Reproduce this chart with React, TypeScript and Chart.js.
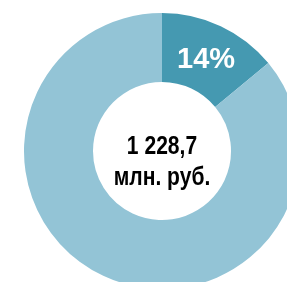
import React, { useEffect, useRef } from "react";
import { Chart, registerables } from "chart.js";

Chart.register(...registerables);

const categories = ["Доля", "Остальное"];
const values = [14, 86];
const sliceLabels = ["14%", ""];
const colors = ["#4599B1", "#93C4D6"];
const centerLines = ["1 228,7", "млн. руб."];

const labelPlugin = {
  id: "labelPlugin",
  afterDraw(chart: any) {
    const ctx = chart.ctx;
    const meta = chart.getDatasetMeta(0);
    ctx.save();
    ctx.textAlign = "center";
    ctx.textBaseline = "middle";
    meta.data.forEach((arc: any, i: number) => {
      const t = sliceLabels[i];
      if (!t) return;
      const p = arc.tooltipPosition();
      ctx.fillStyle = "#ffffff";
      ctx.font = "bold 29px 'Liberation Sans', Arial, sans-serif";
      ctx.fillText(t, p.x, p.y + 3);
    });
    const a = chart.chartArea;
    const cx = (a.left + a.right) / 2;
    const cy = (a.top + a.bottom) / 2;
    ctx.fillStyle = "#000000";
    ctx.textBaseline = "alphabetic";
    ctx.font = "bold 26px 'Liberation Sans', Arial, sans-serif";
    ctx.translate(cx, 0);
    ctx.scale(0.81, 1);
    ctx.fillText(centerLines[0], 0, cy + 3);
    ctx.fillText(centerLines[1], 0, cy + 34);
    ctx.restore();
  },
};

export default function App() {
  const ref = useRef<HTMLCanvasElement>(null);
  useEffect(() => {
    if (!ref.current) return;
    const chart = new Chart(ref.current, {
      type: "doughnut",
      data: {
        labels: categories,
        datasets: [
          {
            data: values,
            backgroundColor: colors,
            borderWidth: 0,
          },
        ],
      },
      options: {
        responsive: false,
        animation: false,
        cutout: "50%",
        layout: { padding: 0 },
        plugins: { legend: { display: false }, tooltip: { enabled: false } },
      },
      plugins: [labelPlugin],
    });
    return () => chart.destroy();
  }, []);
  return (
    <div
      style={{
        position: "fixed",
        left: 0,
        top: 0,
        width: 287,
        height: 282,
        overflow: "hidden",
        background: "#fff",
      }}
    >
      <canvas
        ref={ref}
        width={276}
        height={276}
        style={{ position: "absolute", left: 24, top: 13, width: 276, height: 276 }}
      />
    </div>
  );
}
